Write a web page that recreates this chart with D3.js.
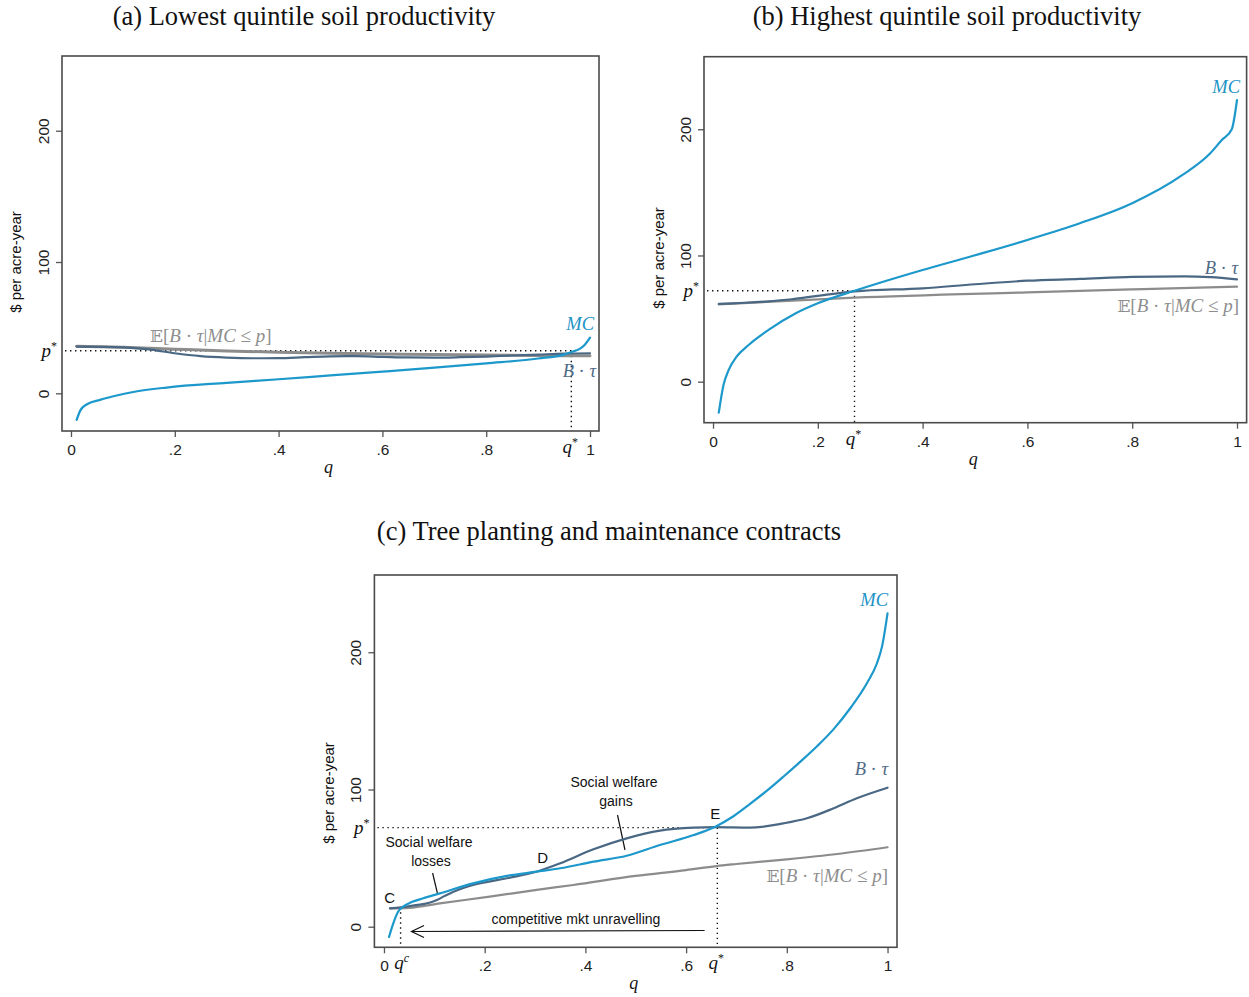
<!DOCTYPE html>
<html>
<head>
<meta charset="utf-8">
<script src="https://cdn.jsdelivr.net/npm/d3@7"></script>
<style>
  html, body { margin: 0; padding: 0; background: #fff; }
  svg { display: block; }
</style>
</head>
<body>
<svg id="chart" width="1249" height="997"></svg>
<script>
// ---------------- DATA ----------------
const xTickValues = [0, 0.2, 0.4, 0.6, 0.8, 1];
const xTickLabels = ["0", ".2", ".4", ".6", ".8", "1"];
const yTickValues = [0, 100, 200];
const yTickLabels = ["0", "100", "200"];

// Panel (a) Lowest quintile soil productivity
const qMC_a = [0.011, 0.018, 0.03, 0.056, 0.09, 0.12, 0.184, 0.3, 0.4, 0.5, 0.6, 0.7, 0.8, 0.9, 0.95, 0.967, 0.98, 0.99, 1.0];
const mc_a  = [-20.3, -13, -8.5, -5, -1.5, 1, 4.4, 8, 10.7, 13.6, 16.5, 19.5, 22.8, 26.5, 29.5, 31.8, 33.8, 37, 42.4];
const qBT_a = [0.011, 0.1, 0.15, 0.2, 0.25, 0.3, 0.35, 0.4, 0.45, 0.5, 0.55, 0.6, 0.65, 0.7, 0.75, 0.8, 0.85, 0.9, 0.95, 1.0];
const bt_a  = [35.5, 35, 33.5, 30.5, 28.3, 27.2, 26.7, 26.8, 27.5, 28.2, 28.3, 27.8, 27.3, 27.2, 27.5, 28, 28.8, 29.5, 30.2, 30.5];
const qE_a  = [0.011, 0.1, 0.2, 0.3, 0.4, 0.5, 0.6, 0.7, 0.8, 0.9, 1.0];
const e_a   = [35.8, 35, 33.6, 32.3, 31.3, 30.6, 30, 29.5, 29.1, 28.8, 28.6];
const pStar_a = 32.4, qStar_a = 0.964;

// Panel (b) Highest quintile soil productivity
const qMC_b = [0.011, 0.02, 0.03, 0.045, 0.068, 0.106, 0.158, 0.2, 0.27, 0.4, 0.5, 0.6, 0.7, 0.8, 0.896, 0.949, 0.971, 0.99, 1.0];
const mc_b  = [-24.5, -2.6, 9.3, 19.8, 29.1, 41, 54.2, 62.1, 72, 88.5, 100.2, 112.3, 125.5, 141.4, 163.8, 181, 191.5, 200, 223.2];
const qBT_b = [0.011, 0.1, 0.15, 0.2, 0.27, 0.4, 0.5, 0.6, 0.7, 0.8, 0.9, 0.95, 1.0];
const bt_b  = [61.6, 63.5, 65.3, 68, 71.5, 74, 77.2, 80, 81.4, 83, 83.5, 82.8, 81.1];
const qE_b  = [0.011, 0.27, 0.6, 0.8, 1.0];
const e_b   = [61.3, 66.6, 70.8, 73.1, 75.3];
const pStar_b = 72.1, qStar_b = 0.27;

// Panel (c) Tree planting and maintenance contracts
const qMC_c = [0.01, 0.0185, 0.028, 0.038, 0.055, 0.078, 0.111, 0.177, 0.244, 0.303, 0.35, 0.416, 0.482, 0.548, 0.615, 0.658, 0.694, 0.727, 0.76, 0.793, 0.827, 0.86, 0.893, 0.926, 0.959, 0.979, 0.989, 1.0];
const mc_c  = [-7.5, 2.4, 10.9, 14.6, 18, 20.7, 24.3, 31.6, 37, 40.1, 42.6, 47.4, 51.7, 59.5, 66.8, 72.9, 80.5, 89.5, 99, 109.3, 120.3, 131.5, 144, 159.2, 177.4, 192, 204.1, 228.4];
const qBT_c = [0.012, 0.033, 0.06, 0.09, 0.105, 0.12, 0.138, 0.177, 0.244, 0.303, 0.35, 0.416, 0.482, 0.548, 0.615, 0.658, 0.727, 0.793, 0.84, 0.893, 0.939, 1.0];
const bt_c  = [13.4, 14.1, 15.5, 17.5, 19.5, 22.3, 25.5, 30.4, 35.3, 40.1, 46.2, 56.4, 64.4, 70, 72.2, 72.6, 72.2, 75.3, 79, 86.3, 93.6, 101.3];
const qE_c  = [0.012, 0.05, 0.111, 0.21, 0.3, 0.376, 0.5, 0.6, 0.66, 0.7, 0.8, 0.9, 1.0];
const e_c   = [13.4, 13.8, 17, 21.9, 26.7, 30.4, 37, 41.3, 44.2, 45.7, 49.1, 53, 57.9];
const pStar_c = 72.2, qStar_c = 0.662, qC_c = 0.033, pC_c = 14.1;
const pointD_c = [0.303, 40.1];

// ---------------- STYLE / LAYOUT ----------------
const COL_MC = "#1c98cb", COL_BT = "#4a6884", COL_E = "#8c8c8c";
const COL_MC_T = "#2393c6", COL_BT_T = "#4f6a86", COL_E_T = "#8e8e8e";
const SERIF = "'Liberation Serif', 'DejaVu Serif', serif";
const SANS = "'Liberation Sans', Arial, sans-serif";

const svg = d3.select("#chart");

function zip(qs, vs) { return qs.map((q, i) => [q, vs[i]]); }

function drawPanel(cfg) {
  const x = d3.scaleLinear().domain(cfg.xDomain).range([cfg.left, cfg.right]);
  const y = d3.scaleLinear().domain(cfg.yDomain).range([cfg.bottom, cfg.top]);
  const g = svg.append("g");

  // title
  g.append("text").attr("x", cfg.titleX).attr("y", cfg.titleY)
    .attr("text-anchor", "middle").attr("font-family", SERIF).attr("font-size", 26.5)
    .attr("fill", "#111").text(cfg.title);

  // axes
  const xAxis = d3.axisBottom(x).tickValues(xTickValues)
    .tickFormat((d, i) => xTickLabels[i]).tickSize(6).tickPadding(7);
  const xg = g.append("g").attr("transform", `translate(0,${cfg.bottom})`).call(xAxis);
  xg.select(".domain").remove();
  xg.selectAll("line").attr("stroke", "#555").attr("stroke-width", 1.3);
  xg.selectAll("text").attr("font-family", SANS).attr("font-size", 15.5).attr("fill", "#222");

  const yAxis = d3.axisLeft(y).tickValues(yTickValues)
    .tickFormat((d, i) => yTickLabels[i]).tickSize(6);
  const yg = g.append("g").attr("transform", `translate(${cfg.left},0)`).call(yAxis);
  yg.select(".domain").remove();
  yg.selectAll("line").attr("stroke", "#555").attr("stroke-width", 1.3);
  yg.selectAll("text").attr("font-family", SANS).attr("font-size", 15.5).attr("fill", "#222")
    .attr("x", 0).attr("y", -13).attr("dy", 0).attr("text-anchor", "middle")
    .attr("transform", "rotate(-90)");

  // axis titles
  g.append("text").attr("transform", `translate(${cfg.yTitleX},${cfg.yTitleY}) rotate(-90)`)
    .attr("text-anchor", "middle").attr("font-family", SANS).attr("font-size", 15)
    .attr("fill", "#111").text("$ per acre-year");
  g.append("text").attr("x", (cfg.left + cfg.right) / 2 - 2).attr("y", cfg.bottom + 42)
    .attr("text-anchor", "middle").attr("font-family", SERIF).attr("font-style", "italic")
    .attr("font-size", 18).attr("fill", "#111").text("q");

  // dotted reference lines
  const dot = (x1, y1, x2, y2) => g.append("line").attr("x1", x1).attr("y1", y1)
    .attr("x2", x2).attr("y2", y2).attr("stroke", "#111").attr("stroke-width", 1.4)
    .attr("stroke-dasharray", "1.4,3.6");
  dot(cfg.left + 3, y(cfg.pStar), x(cfg.qStar), y(cfg.pStar));
  dot(x(cfg.qStar), y(cfg.pStar), x(cfg.qStar), cfg.bottom);

  // p* and q* labels
  const pl = g.append("text").attr("x", cfg.left - 5).attr("y", y(cfg.pStar) + 6)
    .attr("text-anchor", "end").attr("font-family", SERIF).attr("font-size", 19).attr("fill", "#111");
  pl.append("tspan").attr("font-style", "italic").text("p");
  pl.append("tspan").attr("font-size", 12).attr("dy", -7).text("*");
  const ql = g.append("text").attr("x", x(cfg.qStar) - 1).attr("y", cfg.bottom + 22)
    .attr("text-anchor", "middle").attr("font-family", SERIF).attr("font-size", 19).attr("fill", "#111");
  ql.append("tspan").attr("font-style", "italic").text("q");
  ql.append("tspan").attr("font-size", 12).attr("dy", -7).text("*");

  const line = d3.line().x(d => x(d[0])).y(d => y(d[1])).curve(d3.curveMonotoneX);
  const path = (data, col, w) => g.append("path").datum(data).attr("d", line)
    .attr("fill", "none").attr("stroke", col).attr("stroke-width", w)
    .attr("stroke-linejoin", "round").attr("stroke-linecap", "round");

  if (cfg.extra) cfg.extra(g, x, y, dot);

  path(zip(cfg.qE, cfg.e), COL_E, cfg.eWidth || 2.2);
  path(zip(cfg.qBT, cfg.bt), COL_BT, 2.2);
  path(zip(cfg.qMC, cfg.mc), COL_MC, 2.2);

  // series labels
  g.append("text").attr("x", cfg.mcLabel[0]).attr("y", cfg.mcLabel[1])
    .attr("text-anchor", "end").attr("font-family", SERIF).attr("font-style", "italic")
    .attr("font-size", 18.5).attr("fill", COL_MC_T).text("MC");
  const btl = g.append("text").attr("x", cfg.btLabel[0]).attr("y", cfg.btLabel[1])
    .attr("text-anchor", "end").attr("font-family", SERIF).attr("font-size", 18.5).attr("fill", COL_BT_T);
  btl.append("tspan").attr("font-style", "italic").text("B");
  btl.append("tspan").text(" · ");
  btl.append("tspan").attr("font-style", "italic").text("τ");
  const el = g.append("text").attr("x", cfg.eLabel[0]).attr("y", cfg.eLabel[1])
    .attr("text-anchor", cfg.eAnchor).attr("font-family", SERIF).attr("font-size", 19).attr("fill", COL_E_T);
  el.append("tspan").attr("font-family", "'DejaVu Serif', serif").attr("font-size", 17).text("𝔼");
  el.append("tspan").text("[");
  el.append("tspan").attr("font-style", "italic").text("B");
  el.append("tspan").text(" · ");
  el.append("tspan").attr("font-style", "italic").text("τ");
  el.append("tspan").text("|");
  el.append("tspan").attr("font-style", "italic").text("MC");
  el.append("tspan").text(" ≤ ");
  el.append("tspan").attr("font-style", "italic").text("p");
  el.append("tspan").text("]");

  // frame
  g.append("rect").attr("x", cfg.left).attr("y", cfg.top)
    .attr("width", cfg.right - cfg.left).attr("height", cfg.bottom - cfg.top)
    .attr("fill", "none").attr("stroke", "#4a4a4a").attr("stroke-width", 1.6);
}

drawPanel({
  title: "(a) Lowest quintile soil productivity", titleX: 304, titleY: 25,
  left: 62, right: 599, top: 56, bottom: 431,
  xDomain: [-0.0173, 1.0173], yDomain: [-28.7, 256.9],
  yTitleX: 21, yTitleY: 262,
  qMC: qMC_a, mc: mc_a, qBT: qBT_a, bt: bt_a, qE: qE_a, e: e_a, eWidth: 3,
  pStar: pStar_a, qStar: qStar_a,
  mcLabel: [594, 330], btLabel: [596, 377], eLabel: [150, 342], eAnchor: "start"
});

drawPanel({
  title: "(b) Highest quintile soil productivity", titleX: 947, titleY: 25,
  left: 704, right: 1246.6, top: 56.7, bottom: 422.7,
  xDomain: [-0.0172, 1.0183], yDomain: [-32.5, 257.5],
  yTitleX: 664, yTitleY: 258,
  qMC: qMC_b, mc: mc_b, qBT: qBT_b, bt: bt_b, qE: qE_b, e: e_b,
  pStar: pStar_b, qStar: qStar_b,
  mcLabel: [1240, 93], btLabel: [1238, 274], eLabel: [1239, 312], eAnchor: "end"
});

drawPanel({
  title: "(c) Tree planting and maintenance contracts", titleX: 609, titleY: 540,
  left: 374.4, right: 897, top: 575, bottom: 947.3,
  xDomain: [-0.019, 1.0188], yDomain: [-15.0, 256.3],
  yTitleX: 334, yTitleY: 793,
  qMC: qMC_c, mc: mc_c, qBT: qBT_c, bt: bt_c, qE: qE_c, e: e_c,
  pStar: pStar_c, qStar: qStar_c,
  mcLabel: [888, 606], btLabel: [888, 775], eLabel: [888, 882], eAnchor: "end",
  extra: (g, x, y, dot) => {
    // q^c reference
    dot(x(qC_c), y(pC_c), x(qC_c), 947.3);
    const qc = g.append("text").attr("x", x(qC_c) + 1).attr("y", 947.3 + 22)
      .attr("text-anchor", "middle").attr("font-family", SERIF).attr("font-size", 19).attr("fill", "#111");
    qc.append("tspan").attr("font-style", "italic").text("q");
    qc.append("tspan").attr("font-size", 12).attr("dy", -7).attr("font-style", "italic").text("c");
    // point letters
    const lab = (t, px, py, size) => g.append("text").attr("x", px).attr("y", py)
      .attr("text-anchor", "middle").attr("font-family", SANS).attr("font-size", size || 15)
      .attr("fill", "#111").text(t);
    lab("C", x(qC_c) - 11, y(pC_c) - 4);
    lab("D", x(pointD_c[0]) + 6, y(pointD_c[1]) - 9);
    lab("E", x(qStar_c) - 2, y(pStar_c) - 9);
    lab("Social welfare", 614, 787, 14);
    lab("gains", 616, 806, 14);
    lab("Social welfare", 429, 847, 14);
    lab("losses", 431, 866, 14);
    lab("competitive mkt unravelling", 576, 924, 14);
    // pointers
    g.append("line").attr("x1", 617.5).attr("y1", 815).attr("x2", 625).attr("y2", 850)
      .attr("stroke", "#111").attr("stroke-width", 1.2);
    g.append("line").attr("x1", 432.6).attr("y1", 873).attr("x2", 437.6).attr("y2", 894)
      .attr("stroke", "#111").attr("stroke-width", 1.2);
    // arrow (unravelling from q* to q^c)
    g.append("line").attr("x1", 704.6).attr("y1", 930.5).attr("x2", 411.5).attr("y2", 931.5)
      .attr("stroke", "#111").attr("stroke-width", 1.2);
    g.append("path").attr("d", "M424,925.5 L411.5,931.5 L424,937.5")
      .attr("fill", "none").attr("stroke", "#111").attr("stroke-width", 1.2);
  }
});
</script>
</body>
</html>
